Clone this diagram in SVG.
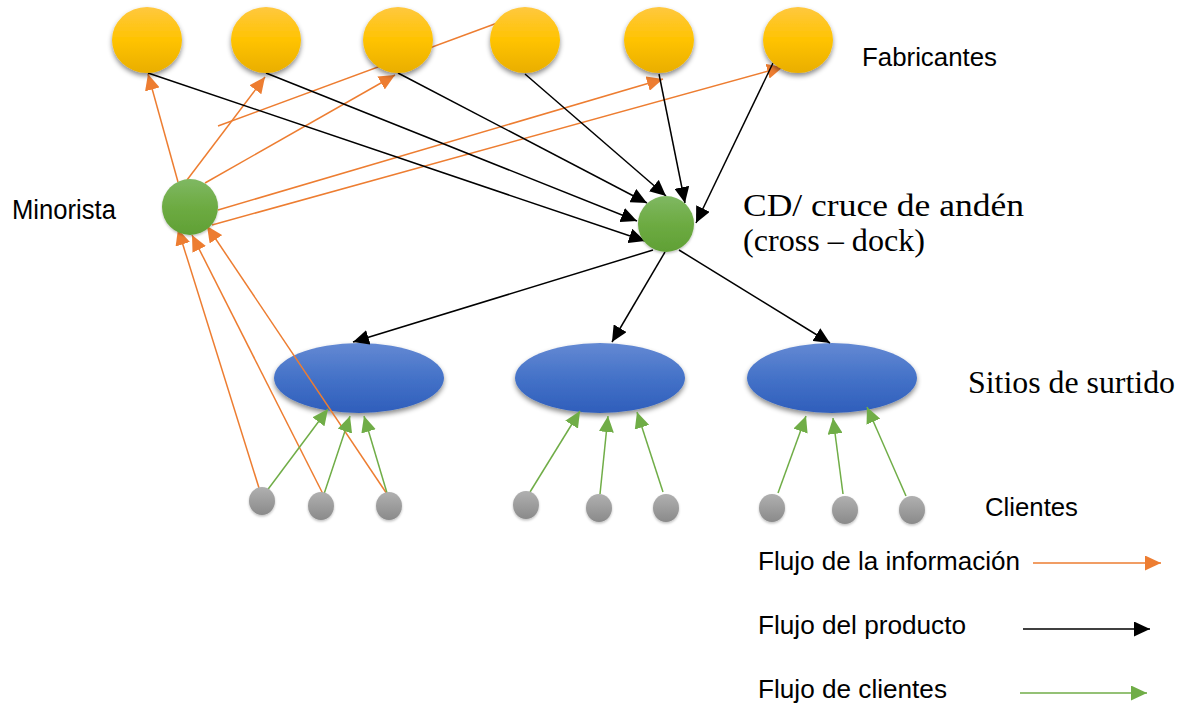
<svg xmlns="http://www.w3.org/2000/svg" width="1180" height="705" viewBox="0 0 1180 705">
  <style>
    .sans { font-family: "Liberation Sans", Arial, sans-serif; fill: #000; }
    .serif { font-family: "Liberation Serif", "Times New Roman", serif; fill: #000; }
    .info { stroke: #ED7D31; stroke-width: 1.5; fill: none; }
    .prod { stroke: #000; stroke-width: 1.5; fill: none; }
    .cli { stroke: #70AD47; stroke-width: 1.5; fill: none; }
  </style>
  <defs>
    <linearGradient id="gYellow" x1="0" y1="0" x2="0" y2="1">
      <stop offset="0" stop-color="#FFC83F"/>
      <stop offset="0.5" stop-color="#FFC300"/>
      <stop offset="1" stop-color="#E9AE00"/>
    </linearGradient>
    <linearGradient id="gGreen" x1="0" y1="0" x2="0" y2="1">
      <stop offset="0" stop-color="#7FB862"/>
      <stop offset="0.5" stop-color="#6DAB42"/>
      <stop offset="1" stop-color="#60A035"/>
    </linearGradient>
    <linearGradient id="gBlue" x1="0" y1="0" x2="0" y2="1">
      <stop offset="0" stop-color="#6489D3"/>
      <stop offset="0.5" stop-color="#4472C8"/>
      <stop offset="1" stop-color="#2F5EBB"/>
    </linearGradient>
    <linearGradient id="gGray" x1="0" y1="0" x2="0" y2="1">
      <stop offset="0" stop-color="#B0B0B0"/>
      <stop offset="1" stop-color="#8A8A8A"/>
    </linearGradient>
    <filter id="shadow" x="-20%" y="-20%" width="140%" height="150%">
      <feDropShadow dx="0" dy="3" stdDeviation="2.5" flood-color="#000" flood-opacity="0.45"/>
    </filter>
    <filter id="softShadow" x="-20%" y="-20%" width="140%" height="150%">
      <feDropShadow dx="0" dy="1.5" stdDeviation="1" flood-color="#000" flood-opacity="0.25"/>
    </filter>
    <marker id="arrO" markerUnits="userSpaceOnUse" markerWidth="17" markerHeight="15" refX="16" refY="7.5" orient="auto">
      <path d="M0,0 L16,7.5 L0,15 z" fill="#ED7D31"/>
    </marker>
    <marker id="arrK" markerUnits="userSpaceOnUse" markerWidth="17" markerHeight="15" refX="16" refY="7.5" orient="auto">
      <path d="M0,0 L16,7.5 L0,15 z" fill="#000"/>
    </marker>
    <marker id="arrG" markerUnits="userSpaceOnUse" markerWidth="17" markerHeight="15" refX="16" refY="7.5" orient="auto">
      <path d="M0,0 L16,7.5 L0,15 z" fill="#70AD47"/>
    </marker>
  </defs>

  <rect x="0" y="0" width="1180" height="705" fill="#fff"/>

  <!-- assortment sites -->
  <g id="sitio1"><ellipse cx="359" cy="378" rx="85" ry="35" fill="url(#gBlue)" filter="url(#shadow)"/></g>
  <g id="sitio2"><ellipse cx="600" cy="378" rx="85" ry="35" fill="url(#gBlue)" filter="url(#shadow)"/></g>
  <g id="sitio3"><ellipse cx="832" cy="378" rx="85" ry="35" fill="url(#gBlue)" filter="url(#shadow)"/></g>

  <!-- connectors -->
  <g id="connectors">
    <!-- information flow -->
    <line class="info" x1="259" y1="488" x2="178" y2="229" marker-end="url(#arrO)"/>
    <line class="info" x1="323" y1="494" x2="192" y2="235" marker-end="url(#arrO)"/>
    <line class="info" x1="387" y1="494" x2="207" y2="226" marker-end="url(#arrO)"/>
    <line class="info" x1="178" y1="182" x2="148" y2="74" marker-end="url(#arrO)"/>
    <line class="info" x1="187" y1="180" x2="265" y2="77" marker-end="url(#arrO)"/>
    <line class="info" x1="205" y1="183" x2="395" y2="75" marker-end="url(#arrO)"/>
    <line class="info" x1="218" y1="210" x2="663" y2="79" marker-end="url(#arrO)"/>
    <line class="info" x1="212" y1="225" x2="783" y2="67" marker-end="url(#arrO)"/>
    <line class="info" x1="218" y1="126" x2="500" y2="22"/>
    <!-- product flow -->
    <line class="prod" x1="148" y1="73" x2="645" y2="241" marker-end="url(#arrK)"/>
    <line class="prod" x1="266" y1="73" x2="637" y2="221" marker-end="url(#arrK)"/>
    <line class="prod" x1="398" y1="73" x2="647" y2="203" marker-end="url(#arrK)"/>
    <line class="prod" x1="525" y1="74" x2="666" y2="196" marker-end="url(#arrK)"/>
    <line class="prod" x1="659" y1="74" x2="685" y2="203" marker-end="url(#arrK)"/>
    <line class="prod" x1="773" y1="63" x2="696" y2="223" marker-end="url(#arrK)"/>
    <line class="prod" x1="653" y1="250" x2="353" y2="342" marker-end="url(#arrK)"/>
    <line class="prod" x1="665" y1="252" x2="612" y2="342" marker-end="url(#arrK)"/>
    <line class="prod" x1="679" y1="250" x2="830" y2="343" marker-end="url(#arrK)"/>
    <!-- customer flow -->
    <line class="cli" x1="266" y1="492" x2="328" y2="409" marker-end="url(#arrG)"/>
    <line class="cli" x1="324" y1="494" x2="350" y2="416" marker-end="url(#arrG)"/>
    <line class="cli" x1="387" y1="493" x2="364" y2="416" marker-end="url(#arrG)"/>
    <line class="cli" x1="530" y1="492" x2="580" y2="411" marker-end="url(#arrG)"/>
    <line class="cli" x1="600" y1="494" x2="608" y2="416" marker-end="url(#arrG)"/>
    <line class="cli" x1="663" y1="492" x2="637" y2="412" marker-end="url(#arrG)"/>
    <line class="cli" x1="778" y1="493" x2="806" y2="416" marker-end="url(#arrG)"/>
    <line class="cli" x1="843" y1="494" x2="833" y2="418" marker-end="url(#arrG)"/>
    <line class="cli" x1="906" y1="496" x2="867" y2="407" marker-end="url(#arrG)"/>
    <!-- legend arrows -->
    <line class="info" x1="1033" y1="563" x2="1161" y2="563" marker-end="url(#arrO)"/>
    <line class="prod" x1="1023" y1="629" x2="1150" y2="629" marker-end="url(#arrK)"/>
    <line class="cli" x1="1020" y1="693" x2="1147" y2="693" marker-end="url(#arrG)"/>
  </g>

  <!-- manufacturers -->
  <g id="fabricante1"><ellipse cx="147" cy="40" rx="35" ry="33" fill="url(#gYellow)" filter="url(#shadow)"/></g>
  <g id="fabricante2"><ellipse cx="266" cy="40" rx="35" ry="33" fill="url(#gYellow)" filter="url(#shadow)"/></g>
  <g id="fabricante3"><ellipse cx="398" cy="40" rx="35" ry="33" fill="url(#gYellow)" filter="url(#shadow)"/></g>
  <g id="fabricante4"><ellipse cx="525" cy="40" rx="35" ry="33" fill="url(#gYellow)" filter="url(#shadow)"/></g>
  <g id="fabricante5"><ellipse cx="659" cy="40" rx="35" ry="33" fill="url(#gYellow)" filter="url(#shadow)"/></g>
  <g id="fabricante6"><ellipse cx="798" cy="40" rx="35" ry="33" fill="url(#gYellow)" filter="url(#shadow)"/></g>

  <!-- retailer and cross-dock -->
  <g id="minorista"><circle cx="190" cy="207" r="28" fill="url(#gGreen)" filter="url(#softShadow)"/></g>
  <g id="cd"><circle cx="666" cy="224" r="28" fill="url(#gGreen)" filter="url(#softShadow)"/></g>

  <!-- customers -->
  <g id="cliente1"><ellipse cx="262" cy="501" rx="13" ry="14" fill="url(#gGray)" filter="url(#softShadow)"/></g>
  <g id="cliente2"><ellipse cx="321" cy="506" rx="13" ry="14" fill="url(#gGray)" filter="url(#softShadow)"/></g>
  <g id="cliente3"><ellipse cx="389" cy="506" rx="13" ry="14" fill="url(#gGray)" filter="url(#softShadow)"/></g>
  <g id="cliente4"><ellipse cx="526" cy="505" rx="13" ry="14" fill="url(#gGray)" filter="url(#softShadow)"/></g>
  <g id="cliente5"><ellipse cx="599" cy="508" rx="13" ry="14" fill="url(#gGray)" filter="url(#softShadow)"/></g>
  <g id="cliente6"><ellipse cx="666" cy="508" rx="13" ry="14" fill="url(#gGray)" filter="url(#softShadow)"/></g>
  <g id="cliente7"><ellipse cx="772" cy="508" rx="13" ry="14" fill="url(#gGray)" filter="url(#softShadow)"/></g>
  <g id="cliente8"><ellipse cx="845" cy="510" rx="13" ry="14" fill="url(#gGray)" filter="url(#softShadow)"/></g>
  <g id="cliente9"><ellipse cx="912" cy="510" rx="13" ry="14" fill="url(#gGray)" filter="url(#softShadow)"/></g>

  <!-- labels -->
  <g id="labels">
    <text class="sans" x="862" y="66" font-size="26" textLength="135" lengthAdjust="spacingAndGlyphs">Fabricantes</text>
    <text class="sans" x="12" y="219" font-size="27" textLength="104" lengthAdjust="spacingAndGlyphs">Minorista</text>
    <text class="serif" x="743" y="216" font-size="31" textLength="281" lengthAdjust="spacingAndGlyphs">CD/ cruce de andén</text>
    <text class="serif" x="743" y="251" font-size="31" textLength="182" lengthAdjust="spacingAndGlyphs">(cross – dock)</text>
    <text class="serif" x="968" y="393" font-size="31" textLength="207" lengthAdjust="spacingAndGlyphs">Sitios de surtido</text>
    <text class="sans" x="985" y="516" font-size="26" textLength="93" lengthAdjust="spacingAndGlyphs">Clientes</text>
    <text class="sans" x="758" y="570" font-size="25" textLength="262" lengthAdjust="spacingAndGlyphs">Flujo de la información</text>
    <text class="sans" x="758" y="634" font-size="25" textLength="208" lengthAdjust="spacingAndGlyphs">Flujo del producto</text>
    <text class="sans" x="758" y="698" font-size="25" textLength="189" lengthAdjust="spacingAndGlyphs">Flujo de clientes</text>
  </g>
</svg>
